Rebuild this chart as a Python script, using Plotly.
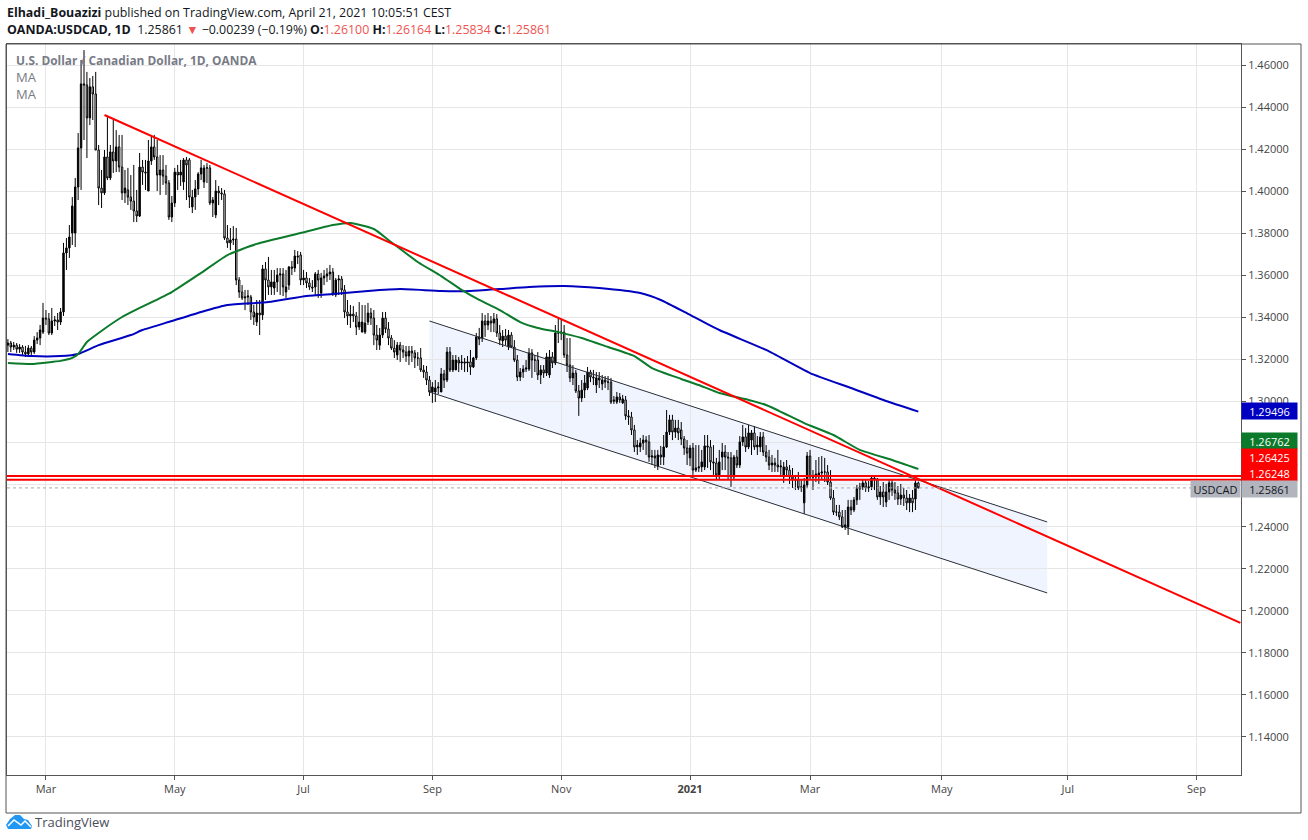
import pandas as pd
import plotly.graph_objects as go

# daily USDCAD bars, last bar is 2021-04-21
opens = [
    1.3266, 1.3276, 1.3257, 1.3266, 1.3247, 1.3257, 1.3233, 1.3224, 1.3252, 1.3233,
    1.3290, 1.3300, 1.3328, 1.3395, 1.3391, 1.3324, 1.3381, 1.3386, 1.3376, 1.3424,
    1.3705, 1.3729, 1.3800, 1.3800, 1.4019, 1.4205, 1.4510, 1.4505, 1.4348, 1.4496,
    1.4462, 1.4195, 1.4014, 1.3991, 1.4162, 1.4062, 1.4186, 1.4143, 1.4210, 1.4114,
    1.3991, 1.4005, 1.3971, 1.3952, 1.3905, 1.3881, 1.4114, 1.4090, 1.4000, 1.4143,
    1.4210, 1.4162, 1.4076, 1.4100, 1.4071, 1.4038, 1.3876, 1.3943, 1.4090, 1.4076,
    1.4043, 1.4148, 1.4148, 1.3924, 1.3971, 1.4010, 1.4081, 1.4043, 1.4110, 1.4110,
    1.3943, 1.3886, 1.4000, 1.3991, 1.3986, 1.3776, 1.3753, 1.3767, 1.3771, 1.3576,
    1.3519, 1.3491, 1.3495, 1.3495, 1.3424, 1.3376, 1.3419, 1.3410, 1.3629, 1.3576,
    1.3543, 1.3538, 1.3567, 1.3600, 1.3605, 1.3519, 1.3552, 1.3638, 1.3633, 1.3690,
    1.3695, 1.3576, 1.3586, 1.3562, 1.3543, 1.3543, 1.3605, 1.3514, 1.3586, 1.3595,
    1.3605, 1.3614, 1.3505, 1.3576, 1.3581, 1.3529, 1.3424, 1.3405, 1.3414, 1.3405,
    1.3352, 1.3328, 1.3328, 1.3376, 1.3419, 1.3395, 1.3314, 1.3266, 1.3314, 1.3395,
    1.3343, 1.3300, 1.3252, 1.3219, 1.3266, 1.3243, 1.3233, 1.3214, 1.3238, 1.3229,
    1.3205, 1.3205, 1.3148, 1.3138, 1.3100, 1.3043, 1.3043, 1.3062, 1.3043, 1.3129,
    1.3100, 1.3233, 1.3148, 1.3148, 1.3195, 1.3181, 1.3186, 1.3181, 1.3186, 1.3162,
    1.3205, 1.3305, 1.3300, 1.3381, 1.3362, 1.3381, 1.3371, 1.3391, 1.3324, 1.3286,
    1.3309, 1.3257, 1.3314, 1.3257, 1.3195, 1.3114, 1.3138, 1.3152, 1.3152, 1.3229,
    1.3195, 1.3195, 1.3124, 1.3148, 1.3133, 1.3124, 1.3210, 1.3181, 1.3324, 1.3324,
    1.3328, 1.3219, 1.3171, 1.3110, 1.3133, 1.3048, 1.3014, 1.3052, 1.3062, 1.3138,
    1.3114, 1.3076, 1.3110, 1.3081, 1.3100, 1.3090, 1.3090, 1.3005, 1.2995, 1.3019,
    1.2991, 1.3005, 1.2929, 1.2924, 1.2862, 1.2781, 1.2781, 1.2800, 1.2814, 1.2805,
    1.2733, 1.2738, 1.2690, 1.2743, 1.2733, 1.2781, 1.2852, 1.2910, 1.2852, 1.2871,
    1.2862, 1.2819, 1.2776, 1.2729, 1.2776, 1.2671, 1.2681, 1.2686, 1.2686, 1.2786,
    1.2781, 1.2710, 1.2705, 1.2648, 1.2733, 1.2757, 1.2733, 1.2729, 1.2638, 1.2733,
    1.2695, 1.2805, 1.2829, 1.2781, 1.2814, 1.2848, 1.2781, 1.2781, 1.2829, 1.2757,
    1.2733, 1.2695, 1.2705, 1.2695, 1.2686, 1.2638, 1.2686, 1.2671, 1.2638, 1.2624,
    1.2624, 1.2586, 1.2515, 1.2600, 1.2738, 1.2638, 1.2638, 1.2638, 1.2657, 1.2662,
    1.2662, 1.2614, 1.2538, 1.2471, 1.2471, 1.2448, 1.2400, 1.2400, 1.2495, 1.2481,
    1.2529, 1.2581, 1.2591, 1.2610, 1.2586, 1.2591, 1.2633, 1.2629, 1.2543, 1.2567,
    1.2519, 1.2567, 1.2610, 1.2576, 1.2562, 1.2533, 1.2552, 1.2538, 1.2515, 1.2538, 1.2533, 1.26100,
]
highs = [
    1.3295, 1.3286, 1.3281, 1.3276, 1.3271, 1.3266, 1.3262, 1.3266, 1.3262, 1.3309,
    1.3328, 1.3362, 1.3467, 1.3433, 1.3419, 1.3443, 1.3405, 1.3419, 1.3443, 1.3753,
    1.3776, 1.3838, 1.3971, 1.4062, 1.4276, 1.4624, 1.4671, 1.4567, 1.4538, 1.4548,
    1.4567, 1.4219, 1.4100, 1.4195, 1.4352, 1.4219, 1.4338, 1.4290, 1.4267, 1.4267,
    1.4100, 1.4110, 1.4076, 1.4124, 1.4005, 1.4181, 1.4148, 1.4148, 1.4243, 1.4267,
    1.4267, 1.4243, 1.4171, 1.4171, 1.4124, 1.4052, 1.3976, 1.4110, 1.4124, 1.4148,
    1.4157, 1.4162, 1.4157, 1.4005, 1.4052, 1.4090, 1.4148, 1.4124, 1.4133, 1.4124,
    1.3971, 1.4052, 1.4024, 1.4014, 1.4005, 1.3838, 1.3824, 1.3833, 1.3824, 1.3590,
    1.3552, 1.3529, 1.3529, 1.3505, 1.3457, 1.3481, 1.3481, 1.3648, 1.3662, 1.3686,
    1.3624, 1.3624, 1.3633, 1.3633, 1.3633, 1.3624, 1.3643, 1.3667, 1.3719, 1.3714,
    1.3710, 1.3624, 1.3614, 1.3586, 1.3576, 1.3614, 1.3624, 1.3610, 1.3624, 1.3633,
    1.3648, 1.3633, 1.3586, 1.3600, 1.3595, 1.3552, 1.3481, 1.3457, 1.3452, 1.3424,
    1.3471, 1.3457, 1.3457, 1.3467, 1.3443, 1.3433, 1.3362, 1.3348, 1.3424, 1.3424,
    1.3376, 1.3314, 1.3290, 1.3281, 1.3281, 1.3266, 1.3262, 1.3262, 1.3262, 1.3243,
    1.3233, 1.3252, 1.3171, 1.3167, 1.3119, 1.3090, 1.3100, 1.3090, 1.3157, 1.3148,
    1.3257, 1.3257, 1.3219, 1.3219, 1.3210, 1.3219, 1.3205, 1.3214, 1.3243, 1.3210,
    1.3324, 1.3348, 1.3419, 1.3410, 1.3419, 1.3405, 1.3419, 1.3414, 1.3362, 1.3338,
    1.3343, 1.3338, 1.3328, 1.3290, 1.3219, 1.3157, 1.3171, 1.3195, 1.3252, 1.3247,
    1.3219, 1.3233, 1.3171, 1.3171, 1.3229, 1.3243, 1.3233, 1.3362, 1.3395, 1.3386,
    1.3362, 1.3300, 1.3300, 1.3171, 1.3148, 1.3076, 1.3100, 1.3124, 1.3162, 1.3148,
    1.3148, 1.3138, 1.3138, 1.3124, 1.3119, 1.3119, 1.3110, 1.3024, 1.3043, 1.3038,
    1.3029, 1.3024, 1.2957, 1.2948, 1.2886, 1.2814, 1.2824, 1.2838, 1.2833, 1.2838,
    1.2767, 1.2767, 1.2767, 1.2786, 1.2838, 1.2957, 1.2934, 1.2934, 1.2910, 1.2910,
    1.2900, 1.2833, 1.2814, 1.2790, 1.2800, 1.2790, 1.2790, 1.2767, 1.2838, 1.2838,
    1.2814, 1.2790, 1.2729, 1.2767, 1.2800, 1.2790, 1.2757, 1.2757, 1.2743, 1.2767,
    1.2833, 1.2886, 1.2871, 1.2886, 1.2862, 1.2881, 1.2833, 1.2852, 1.2852, 1.2790,
    1.2767, 1.2743, 1.2729, 1.2767, 1.2719, 1.2710, 1.2719, 1.2695, 1.2681, 1.2648,
    1.2662, 1.2624, 1.2633, 1.2757, 1.2767, 1.2671, 1.2719, 1.2733, 1.2738, 1.2729,
    1.2695, 1.2671, 1.2576, 1.2505, 1.2505, 1.2481, 1.2481, 1.2529, 1.2529, 1.2543,
    1.2600, 1.2610, 1.2624, 1.2624, 1.2619, 1.2643, 1.2638, 1.2633, 1.2595, 1.2614,
    1.2605, 1.2624, 1.2624, 1.2614, 1.2595, 1.2605, 1.2586, 1.2576, 1.2557, 1.2576, 1.2624, 1.26164,
]
lows = [
    1.3233, 1.3233, 1.3243, 1.3229, 1.3229, 1.3219, 1.3210, 1.3214, 1.3210, 1.3224,
    1.3271, 1.3266, 1.3319, 1.3362, 1.3314, 1.3314, 1.3357, 1.3338, 1.3362, 1.3405,
    1.3624, 1.3681, 1.3743, 1.3733, 1.3957, 1.4005, 1.4243, 1.4157, 1.4314, 1.4338,
    1.4195, 1.3933, 1.3919, 1.3981, 1.4052, 1.4052, 1.4086, 1.4090, 1.4090, 1.3957,
    1.3943, 1.3933, 1.3910, 1.3852, 1.3852, 1.3876, 1.4029, 1.4005, 1.4000, 1.4124,
    1.4148, 1.4000, 1.3981, 1.4029, 1.3981, 1.3862, 1.3852, 1.3924, 1.4005, 1.4024,
    1.4005, 1.3957, 1.3919, 1.3895, 1.3910, 1.3981, 1.4052, 1.4014, 1.4038, 1.3933,
    1.3876, 1.3871, 1.3933, 1.3957, 1.3767, 1.3729, 1.3719, 1.3743, 1.3552, 1.3491,
    1.3481, 1.3433, 1.3457, 1.3386, 1.3362, 1.3357, 1.3314, 1.3386, 1.3481, 1.3505,
    1.3505, 1.3505, 1.3519, 1.3505, 1.3500, 1.3491, 1.3529, 1.3600, 1.3614, 1.3652,
    1.3552, 1.3552, 1.3538, 1.3529, 1.3519, 1.3505, 1.3491, 1.3491, 1.3552, 1.3567,
    1.3576, 1.3500, 1.3495, 1.3505, 1.3505, 1.3395, 1.3362, 1.3348, 1.3376, 1.3314,
    1.3338, 1.3328, 1.3319, 1.3362, 1.3362, 1.3266, 1.3243, 1.3243, 1.3300, 1.3324,
    1.3266, 1.3243, 1.3205, 1.3195, 1.3186, 1.3205, 1.3186, 1.3171, 1.3186, 1.3157,
    1.3167, 1.3138, 1.3110, 1.3076, 1.3024, 1.2991, 1.2995, 1.3033, 1.3043, 1.3062,
    1.3090, 1.3138, 1.3138, 1.3148, 1.3138, 1.3148, 1.3138, 1.3138, 1.3124, 1.3157,
    1.3195, 1.3266, 1.3281, 1.3305, 1.3338, 1.3328, 1.3328, 1.3305, 1.3266, 1.3257,
    1.3266, 1.3243, 1.3252, 1.3186, 1.3095, 1.3095, 1.3110, 1.3138, 1.3143, 1.3110,
    1.3138, 1.3100, 1.3081, 1.3110, 1.3119, 1.3110, 1.3157, 1.3171, 1.3276, 1.3290,
    1.3205, 1.3138, 1.3090, 1.3076, 1.3038, 1.2929, 1.2995, 1.3014, 1.3052, 1.3090,
    1.3076, 1.3038, 1.3062, 1.3052, 1.3062, 1.3052, 1.2986, 1.2986, 1.2986, 1.2991,
    1.2986, 1.2910, 1.2886, 1.2838, 1.2757, 1.2743, 1.2757, 1.2767, 1.2743, 1.2710,
    1.2695, 1.2681, 1.2671, 1.2695, 1.2695, 1.2776, 1.2838, 1.2814, 1.2824, 1.2814,
    1.2790, 1.2743, 1.2695, 1.2690, 1.2648, 1.2662, 1.2662, 1.2662, 1.2671, 1.2681,
    1.2671, 1.2648, 1.2624, 1.2624, 1.2671, 1.2671, 1.2624, 1.2591, 1.2624, 1.2681,
    1.2681, 1.2786, 1.2757, 1.2771, 1.2743, 1.2767, 1.2743, 1.2757, 1.2738, 1.2710,
    1.2671, 1.2662, 1.2662, 1.2662, 1.2648, 1.2610, 1.2638, 1.2605, 1.2586, 1.2576,
    1.2576, 1.2567, 1.2462, 1.2586, 1.2624, 1.2576, 1.2614, 1.2605, 1.2624, 1.2614,
    1.2600, 1.2529, 1.2457, 1.2452, 1.2433, 1.2395, 1.2386, 1.2362, 1.2457, 1.2471,
    1.2505, 1.2529, 1.2576, 1.2567, 1.2567, 1.2576, 1.2576, 1.2529, 1.2505, 1.2495,
    1.2495, 1.2529, 1.2548, 1.2529, 1.2505, 1.2505, 1.2500, 1.2481, 1.2471, 1.2471, 1.2481, 1.25834,
]
closes = [
    1.3276, 1.3257, 1.3266, 1.3247, 1.3257, 1.3233, 1.3224, 1.3252, 1.3233, 1.3290,
    1.3300, 1.3338, 1.3395, 1.3391, 1.3324, 1.3381, 1.3386, 1.3376, 1.3424, 1.3705,
    1.3729, 1.3781, 1.3929, 1.4019, 1.4205, 1.4510, 1.4505, 1.4348, 1.4496, 1.4462,
    1.4195, 1.4014, 1.3991, 1.4162, 1.4062, 1.4186, 1.4143, 1.4210, 1.4114, 1.3991,
    1.4014, 1.3971, 1.3952, 1.3905, 1.3881, 1.4114, 1.4090, 1.4086, 1.4143, 1.4210,
    1.4162, 1.4076, 1.4100, 1.4071, 1.4038, 1.3876, 1.3943, 1.4090, 1.4076, 1.4090,
    1.4148, 1.4124, 1.3971, 1.3971, 1.4010, 1.4081, 1.4110, 1.4110, 1.4110, 1.3943,
    1.3957, 1.4000, 1.3991, 1.3986, 1.3776, 1.3753, 1.3767, 1.3771, 1.3576, 1.3519,
    1.3491, 1.3495, 1.3500, 1.3424, 1.3400, 1.3419, 1.3410, 1.3629, 1.3576, 1.3543,
    1.3567, 1.3567, 1.3600, 1.3605, 1.3543, 1.3543, 1.3638, 1.3633, 1.3690, 1.3686,
    1.3576, 1.3586, 1.3562, 1.3543, 1.3538, 1.3605, 1.3576, 1.3586, 1.3595, 1.3605,
    1.3614, 1.3510, 1.3576, 1.3581, 1.3529, 1.3424, 1.3405, 1.3414, 1.3405, 1.3352,
    1.3376, 1.3376, 1.3371, 1.3419, 1.3395, 1.3314, 1.3290, 1.3314, 1.3395, 1.3343,
    1.3300, 1.3252, 1.3233, 1.3266, 1.3243, 1.3233, 1.3214, 1.3238, 1.3229, 1.3205,
    1.3205, 1.3148, 1.3138, 1.3100, 1.3043, 1.3067, 1.3062, 1.3067, 1.3129, 1.3100,
    1.3233, 1.3148, 1.3195, 1.3195, 1.3181, 1.3186, 1.3181, 1.3186, 1.3162, 1.3205,
    1.3305, 1.3295, 1.3381, 1.3362, 1.3381, 1.3371, 1.3391, 1.3324, 1.3290, 1.3309,
    1.3290, 1.3314, 1.3257, 1.3195, 1.3114, 1.3138, 1.3152, 1.3157, 1.3229, 1.3195,
    1.3195, 1.3124, 1.3148, 1.3133, 1.3210, 1.3210, 1.3181, 1.3324, 1.3324, 1.3328,
    1.3219, 1.3171, 1.3110, 1.3133, 1.3048, 1.3014, 1.3052, 1.3086, 1.3138, 1.3114,
    1.3110, 1.3110, 1.3100, 1.3100, 1.3090, 1.3090, 1.2995, 1.3000, 1.3019, 1.3005,
    1.3010, 1.2929, 1.2924, 1.2862, 1.2781, 1.2790, 1.2800, 1.2814, 1.2805, 1.2733,
    1.2738, 1.2729, 1.2743, 1.2733, 1.2781, 1.2852, 1.2910, 1.2852, 1.2871, 1.2848,
    1.2819, 1.2776, 1.2752, 1.2776, 1.2671, 1.2681, 1.2686, 1.2710, 1.2786, 1.2781,
    1.2710, 1.2705, 1.2648, 1.2710, 1.2757, 1.2733, 1.2729, 1.2638, 1.2733, 1.2695,
    1.2805, 1.2829, 1.2781, 1.2848, 1.2848, 1.2781, 1.2790, 1.2829, 1.2757, 1.2733,
    1.2695, 1.2705, 1.2695, 1.2686, 1.2690, 1.2686, 1.2671, 1.2638, 1.2624, 1.2624,
    1.2586, 1.2591, 1.2600, 1.2738, 1.2638, 1.2638, 1.2652, 1.2657, 1.2662, 1.2662,
    1.2614, 1.2538, 1.2471, 1.2471, 1.2448, 1.2400, 1.2410, 1.2495, 1.2481, 1.2529,
    1.2581, 1.2591, 1.2610, 1.2586, 1.2591, 1.2633, 1.2629, 1.2543, 1.2567, 1.2543,
    1.2567, 1.2610, 1.2576, 1.2562, 1.2533, 1.2552, 1.2538, 1.2515, 1.2538, 1.2515, 1.2610, 1.25861,
]
assert len(opens) == len(highs) == len(lows) == len(closes)

# moving averages, sampled at bar numbers
green_bars = [0, 8, 15, 18, 22, 24, 27, 31, 39, 45, 56, 66, 75, 85, 100, 111, 117, 125, 130, 140,
              148, 155, 161, 168, 175, 181, 188, 196, 205, 214, 220, 230, 236, 243, 253, 259, 272,
              282, 291, 302, 311]
green_ma = [1.3181, 1.3176, 1.3186, 1.3191, 1.3205, 1.3224, 1.3281, 1.3324, 1.3400, 1.3443, 1.3519,
            1.3610, 1.3695, 1.3748, 1.3800, 1.3838, 1.3848, 1.3819, 1.3767, 1.3662, 1.3595, 1.3529,
            1.3481, 1.3433, 1.3376, 1.3348, 1.3328, 1.3300, 1.3257, 1.3214, 1.3157, 1.3105, 1.3076,
            1.3038, 1.3005, 1.2981, 1.2895, 1.2838, 1.2767, 1.2719, 1.26762]
blue_bars = [0, 8, 18, 24, 31, 42, 46, 56, 66, 75, 89, 102, 111, 123, 134, 148, 158, 168, 178, 190,
             202, 216, 223, 233, 243, 259, 274, 288, 301, 311]
blue_ma = [1.3224, 1.3214, 1.3214, 1.3224, 1.3266, 1.3314, 1.3338, 1.3381, 1.3424, 1.3457, 1.3471,
           1.3500, 1.3510, 1.3524, 1.3533, 1.3524, 1.3524, 1.3533, 1.3543, 1.3548, 1.3538, 1.3514,
           1.3481, 1.3410, 1.3338, 1.3243, 1.3133, 1.3062, 1.2995, 1.29496]

# drawings on the chart
trend_bars = [33, 421]
trend_prices = [1.4362, 1.1943]
channel_bars = [144, 355]
channel_top = [1.3381, 1.2424]
channel_bottom = [1.3043, 1.2086]
red_levels = [1.26425, 1.26248]
last_price = 1.25861

tick_dates = ["2020-02-28", "2020-04-30", "2020-07-01", "2020-09-01", "2020-11-02",
              "2021-01-01", "2021-03-01", "2021-05-03", "2021-07-01", "2021-09-01"]
tick_names = ["Mar", "May", "Jul", "Sep", "Nov", "<b>2021</b>", "Mar", "May", "Jul", "Sep"]
price_ticks = [1.14, 1.16, 1.18, 1.20, 1.22, 1.24, 1.26, 1.28, 1.30, 1.32, 1.34, 1.36, 1.38, 1.40, 1.42, 1.44, 1.46]
price_names = ["1.14000", "1.16000", "1.18000", "1.20000", "1.22000", "1.24000", "", "", "1.30000",
               "1.32000", "1.34000", "1.36000", "1.38000", "1.40000", "1.42000", "1.44000", "1.46000"]

FONT = "Open Sans"
GRID = "#e6e6e6"
AXIS = "#555555"
TEXT = "#131722"
LEFT, RIGHT, TOP, BOTTOM = 7, 1241, 44, 775


def px(x):
    return (x - LEFT) / (RIGHT - LEFT)


def py(y):
    return (BOTTOM - y) / (BOTTOM - TOP)


dates = pd.bdate_range(end="2021-04-21", periods=len(closes))
future = pd.bdate_range(start="2021-04-22", periods=120)
all_days = [d.strftime("%Y-%m-%d") for d in dates.append(future)]
bar_days = all_days[:len(closes)]


def days(bars):
    return [all_days[b] for b in bars]


fig = go.Figure()

fig.add_trace(go.Candlestick(
    x=bar_days, open=opens, high=highs, low=lows, close=closes,
    increasing=dict(line=dict(color="#000000", width=1), fillcolor="#000000"),
    decreasing=dict(line=dict(color="#000000", width=1), fillcolor="#ffffff"),
    whiskerwidth=0, hoverinfo="skip"
))
for edge in (channel_top, channel_bottom):
    fig.add_trace(go.Scatter(x=days(channel_bars), y=edge, mode="lines",
                             line=dict(color="#2a2e39", width=1), hoverinfo="skip"))
fig.add_trace(go.Scatter(x=days(blue_bars), y=blue_ma, mode="lines",
                         line=dict(color="#0000c0", width=2, shape="spline", smoothing=0.5), hoverinfo="skip"))
fig.add_trace(go.Scatter(x=days(green_bars), y=green_ma, mode="lines",
                         line=dict(color="#0b7a2a", width=2, shape="spline", smoothing=0.5), hoverinfo="skip"))
fig.add_trace(go.Scatter(x=days(trend_bars), y=trend_prices, mode="lines",
                         line=dict(color="#ff0000", width=2), hoverinfo="skip"))

# channel fill has to be a shape, a scatter fill would sit on top of the candles
fig.add_shape(type="path", xref="x", yref="y", layer="below", line=dict(width=0),
              fillcolor="rgba(33,100,243,0.07)",
              path="M {} {} L {} {} L {} {} L {} {} Z".format(
                  channel_bars[0], channel_top[0], channel_bars[1], channel_top[1],
                  channel_bars[1], channel_bottom[1], channel_bars[0], channel_bottom[0]))

for level in red_levels:
    fig.add_hline(y=level, line=dict(color="#ff0000", width=2))
fig.add_hline(y=last_price, line=dict(color="#aaaaaa", width=1, dash="dot"))

# outer frame of the snapshot
fig.add_shape(type="rect", xref="paper", yref="paper", x0=px(6), x1=px(1301), y0=py(813), y1=py(44),
              line=dict(color=AXIS, width=1))

# logo
fig.add_shape(type="path", xref="paper", yref="paper", line=dict(width=0), fillcolor="#2196f3",
              path="M {} {} L {} {} L {} {} L {} {} L {} {} L {} {} L {} {} L {} {} L {} {} Z".format(
                  px(8), py(829), px(6), py(825), px(10), py(819), px(15), py(815), px(20), py(815),
                  px(24), py(819), px(28), py(820), px(32), py(826), px(31), py(829)))
fig.add_shape(type="path", xref="paper", yref="paper", line=dict(color="#ffffff", width=1.5),
              path="M {} {} L {} {} L {} {} L {} {} L {} {}".format(
                  px(8), py(826), px(14), py(820), px(21), py(825), px(25), py(821), px(31), py(827)))

header_red = '<span style="color:#ef5350">{}</span>'
header_2 = ("<b>OANDA:USDCAD, 1D</b>  1.25861 " + header_red.format("▼") + " −0.00239 (−0.19%) "
            + "<b>O:</b>" + header_red.format("1.26100") + " <b>H:</b>" + header_red.format("1.26164")
            + " <b>L:</b>" + header_red.format("1.25834") + " <b>C:</b>" + header_red.format("1.25861"))

notes = [
    (6, 12, "<b>Elhadi_Bouazizi</b> published on TradingView.com, April 21, 2021 10:05:51 CEST", 12.4, TEXT),
    (6, 29, header_2, 12.4, TEXT),
    (15, 60, "<b>U.S. Dollar / Canadian Dollar, 1D, OANDA</b>", 11.9, "#787b86"),
    (15, 77, "MA", 13, "#787b86"),
    (15, 94, "MA", 13, "#787b86"),
    (34, 822, "TradingView", 13, "#4a4e59"),
]
for x, y, text, size, color in notes:
    fig.add_annotation(xref="paper", yref="paper", x=px(x), y=py(y), text=text, showarrow=False,
                       xanchor="left", yanchor="middle", align="left", borderpad=0,
                       font=dict(family=FONT, size=size, color=color))

# price tags on the right hand scale
tags = [
    (411, "1.29496", "#0000c0", "#ffffff"),
    (441, "1.26762", "#0b7a2a", "#ffffff"),
    (457, "1.26425", "#ff0000", "#ffffff"),
    (473, "1.26248", "#ff0000", "#ffffff"),
    (489, "1.25861", "#b2b5be", "#131722"),
]
for y, text, bg, color in tags:
    fig.add_annotation(xref="paper", yref="paper", x=px(RIGHT), y=py(y), text=text, showarrow=False,
                       xanchor="left", yanchor="middle", width=55, height=16, bgcolor=bg, borderpad=0,
                       align="center", font=dict(family=FONT, size=11, color=color))
fig.add_annotation(xref="paper", yref="paper", x=px(RIGHT), y=py(489), text="USDCAD", showarrow=False,
                   xanchor="right", yanchor="middle", width=49, height=16, bgcolor="#b2b5be", borderpad=0,
                   align="center", font=dict(family=FONT, size=11, color="#131722"))

fig.update_layout(
    width=1308, height=840,
    margin=dict(l=LEFT, r=1308 - RIGHT, t=TOP, b=840 - BOTTOM),
    paper_bgcolor="#ffffff", plot_bgcolor="#ffffff",
    showlegend=False,
    font=dict(family=FONT, size=11, color=TEXT),
    xaxis=dict(
        type="category", categoryorder="array", categoryarray=all_days,
        range=[-0.3, 421.2], rangeslider_visible=False,
        tickmode="array", tickvals=tick_dates, ticktext=tick_names,
        showgrid=True, gridcolor=GRID, gridwidth=1, zeroline=False,
        ticks="outside", ticklen=4, tickcolor=AXIS, tickangle=0,
        showline=True, linecolor=AXIS, linewidth=1, mirror=True,
        tickfont=dict(family=FONT, size=11, color="#444444"),
    ),
    yaxis=dict(
        side="right", range=[1.1219, 1.47],
        tickmode="array", tickvals=price_ticks, ticktext=price_names,
        showgrid=True, gridcolor=GRID, gridwidth=1, zeroline=False,
        ticks="outside", ticklen=4, tickcolor=AXIS,
        showline=True, linecolor=AXIS, linewidth=1, mirror=True,
        tickfont=dict(family=FONT, size=11, color="#444444"),
    ),
)

fig.write_html("out.html", config=dict(displayModeBar=False),
               post_script="document.body.style.margin='0';")
